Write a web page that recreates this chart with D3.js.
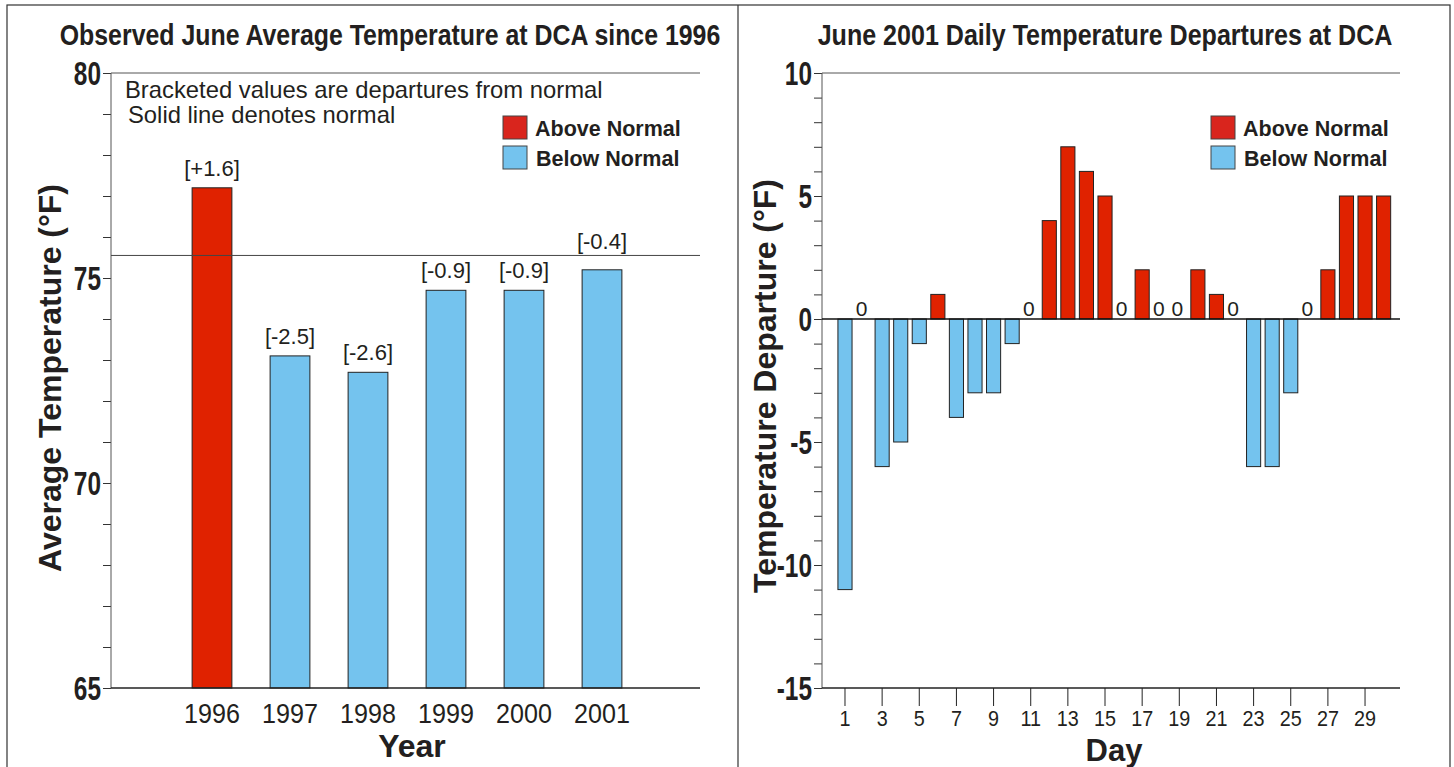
<!DOCTYPE html>
<html>
<head>
<meta charset="utf-8">
<script src="https://cdn.jsdelivr.net/npm/d3@7"></script>
<style>
	body { margin: 0; background: #fff; }
	text { font-family: "Liberation Sans", Arial, sans-serif; fill: #231f20; }
</style>
</head>
<body>
<svg id="chart"></svg>
<script>

var w = 1454;
var h = 767;

// left chart: june averages
var years = ['1996', '1997', '1998', '1999', '2000', '2001'];
var avg_temps = [77.2, 73.1, 72.7, 74.7, 74.7, 75.2];
var departures = ['[+1.6]', '[-2.5]', '[-2.6]', '[-0.9]', '[-0.9]', '[-0.4]'];
var normal_temp = 75.55;
var left_ticks = [65, 70, 75, 80];

// right chart: daily departures june 2001
var days = d3.range(1, 31);
var daily_dep = [-11, 0, -6, -5, -1, 1, -4, -3, -3, -1, 0, 4, 7, 6, 5, 0, 2, 0, 0, 2, 1, 0, -6, -6, -3, 0, 2, 5, 5, 5];
var right_ticks = [-15, -10, -5, 0, 5, 10];
var day_labels = [1, 3, 5, 7, 9, 11, 13, 15, 17, 19, 21, 23, 25, 27, 29];

var red = '#e02200';
var red_leg = '#d9251d';
var blue = '#74c3ee';

var svg = d3.select('#chart')
	.attr('width', w)
	.attr('height', h);

// panel frames
svg.append('rect')
	.attr('x', 7).attr('y', 5)
	.attr('width', 1443).attr('height', 800)
	.attr('fill', 'none')
	.attr('stroke', '#333')
	.attr('stroke-width', 1.2);
svg.append('line')
	.attr('x1', 738).attr('x2', 738)
	.attr('y1', 5).attr('y2', h)
	.attr('stroke', '#333')
	.attr('stroke-width', 1.2);

// squeezed text (the original uses a condensed face)
function cond_text(g, txt, x, y, size, sx, anchor) {
	return g.append('text')
		.attr('transform', 'translate(' + x + ',' + y + ') scale(' + sx + ',1)')
		.attr('text-anchor', anchor || 'start')
		.attr('font-size', size)
		.attr('font-weight', 'bold')
		.text(txt);
}

function legend(g, x) {
	var items = [['Above Normal', red_leg], ['Below Normal', blue]];
	items.forEach(function(d, i) {
		g.append('rect')
			.attr('x', x).attr('y', 116 + i * 30)
			.attr('width', 24).attr('height', 23)
			.attr('fill', d[1])
			.attr('stroke', '#444')
			.attr('stroke-width', 1);
		g.append('text')
			.attr('x', x + 32 + i * 1).attr('y', 136 + i * 30)
			.attr('font-size', 21.5)
			.attr('font-weight', 'bold')
			.text(d[0]);
	});
}

function style_axis(ax) {
	ax.select('.domain').remove();
	ax.selectAll('line').attr('stroke', '#333');
	ax.selectAll('text')
		.attr('font-size', 33)
		.attr('font-weight', 'bold')
		.attr('fill', '#231f20')
		.attr('transform', 'scale(0.74,1)')
		.attr('x', -10 / 0.74)
		.attr('dy', '0.36em');
}

/* ---------- left chart ---------- */

var L = svg.append('g');
var lx0 = 111, lx1 = 700, ly0 = 73, ly1 = 688;

var y1 = d3.scaleLinear().domain([65, 80]).range([ly1, ly0]);
var x1 = d3.scaleBand().domain(years).range([173, 641]).paddingInner(0.49).paddingOuter(0.245);

cond_text(L, 'Observed June Average Temperature at DCA since 1996', 390, 45, 30, 0.83, 'middle');

var lax = L.append('g')
	.attr('transform', 'translate(' + lx0 + ',0)')
	.call(d3.axisLeft(y1).tickValues(d3.range(65, 81)).tickSize(8)
		.tickFormat(function(d) { return left_ticks.includes(d) ? d : ''; }));
style_axis(lax);

L.append('line')
	.attr('x1', lx0).attr('x2', lx0).attr('y1', ly0).attr('y2', ly1)
	.attr('stroke', '#555');
L.append('line')
	.attr('x1', lx0).attr('x2', lx1).attr('y1', ly0).attr('y2', ly0)
	.attr('stroke', '#555');

L.selectAll('.avg_bar')
	.data(years)
	.enter()
	.append('rect')
	.attr('class', 'avg_bar')
	.attr('x', function(d) { return x1(d); })
	.attr('width', x1.bandwidth())
	.attr('y', function(d, i) { return y1(avg_temps[i]); })
	.attr('height', function(d, i) { return ly1 - y1(avg_temps[i]); })
	.attr('fill', function(d, i) { return avg_temps[i] > normal_temp ? red : blue; })
	.attr('stroke', '#222')
	.attr('stroke-width', 1);

L.append('line')
	.attr('x1', lx0).attr('x2', lx1)
	.attr('y1', y1(normal_temp)).attr('y2', y1(normal_temp))
	.attr('stroke', '#444')
	.attr('stroke-width', 1);

L.selectAll('.dep_lbl')
	.data(years)
	.enter()
	.append('text')
	.attr('class', 'dep_lbl')
	.attr('x', function(d) { return x1(d) + x1.bandwidth() / 2; })
	.attr('y', function(d, i) {
		var yy = y1(avg_temps[i]) - 12;
		// keep label clear of the normal line
		if (yy > y1(normal_temp) - 6 && yy < y1(normal_temp) + 20) yy = y1(normal_temp) - 6;
		return yy;
	})
	.attr('text-anchor', 'middle')
	.attr('font-size', 22)
	.text(function(d, i) { return departures[i]; });

L.append('line')
	.attr('x1', lx0).attr('x2', lx1).attr('y1', ly1).attr('y2', ly1)
	.attr('stroke', '#222')
	.attr('stroke-width', 1.5);

L.selectAll('.yr_lbl')
	.data(years)
	.enter()
	.append('text')
	.attr('class', 'yr_lbl')
	.attr('transform', function(d) {
		return 'translate(' + (x1(d) + x1.bandwidth() / 2) + ',723) scale(0.93,1)';
	})
	.attr('text-anchor', 'middle')
	.attr('font-size', 27)
	.text(function(d) { return d; });

L.append('text')
	.attr('x', 412).attr('y', 757)
	.attr('text-anchor', 'middle')
	.attr('font-size', 32)
	.attr('font-weight', 'bold')
	.text('Year');

L.append('text')
	.attr('transform', 'translate(61,378) rotate(-90)')
	.attr('text-anchor', 'middle')
	.attr('font-size', 32)
	.attr('font-weight', 'bold')
	.text('Average Temperature (°F)');

L.append('text')
	.attr('x', 125).attr('y', 98)
	.attr('font-size', 23.8)
	.text('Bracketed values are departures from normal');
L.append('text')
	.attr('x', 128).attr('y', 123)
	.attr('font-size', 23.8)
	.text('Solid line denotes normal');

legend(L, 503);

/* ---------- right chart ---------- */

var R = svg.append('g');
var rx0 = 822, rx1 = 1400, ry0 = 73, ry1 = 688;

var y2 = d3.scaleLinear().domain([-15, 10]).range([ry1, ry0]);
var x2 = d3.scaleBand().domain(days).range([835.7, 1392.9]).paddingInner(0.24).paddingOuter(0.12);

cond_text(R, 'June 2001 Daily Temperature Departures at DCA', 1105, 45, 30, 0.836, 'middle');

var rax = R.append('g')
	.attr('transform', 'translate(' + rx0 + ',0)')
	.call(d3.axisLeft(y2).tickValues(d3.range(-15, 11)).tickSize(8)
		.tickFormat(function(d) { return right_ticks.includes(d) ? d : ''; }));
style_axis(rax);

R.append('line')
	.attr('x1', rx0).attr('x2', rx0).attr('y1', ry0).attr('y2', ry1)
	.attr('stroke', '#555');
R.append('line')
	.attr('x1', rx0).attr('x2', rx1).attr('y1', ry0).attr('y2', ry0)
	.attr('stroke', '#555');

R.selectAll('.day_bar')
	.data(days.filter(function(d) { return daily_dep[d - 1] != 0; }))
	.enter()
	.append('rect')
	.attr('class', 'day_bar')
	.attr('x', function(d) { return x2(d); })
	.attr('width', x2.bandwidth())
	.attr('y', function(d) { return y2(Math.max(0, daily_dep[d - 1])); })
	.attr('height', function(d) { return Math.abs(y2(daily_dep[d - 1]) - y2(0)); })
	.attr('fill', function(d) { return daily_dep[d - 1] > 0 ? red : blue; })
	.attr('stroke', '#222')
	.attr('stroke-width', 1);

R.selectAll('.zero_lbl')
	.data(days.filter(function(d) { return daily_dep[d - 1] == 0; }))
	.enter()
	.append('text')
	.attr('class', 'zero_lbl')
	.attr('x', function(d) { return x2(d) + x2.bandwidth() / 2 - 2; })
	.attr('y', y2(0) - 3)
	.attr('text-anchor', 'middle')
	.attr('font-size', 21)
	.text('0');

R.append('line')
	.attr('x1', rx0).attr('x2', rx1).attr('y1', y2(0)).attr('y2', y2(0))
	.attr('stroke', '#111')
	.attr('stroke-width', 1.3);

var bx = R.append('g')
	.attr('transform', 'translate(0,' + ry1 + ')')
	.call(d3.axisBottom(x2).tickValues(day_labels).tickSize(18).tickPadding(4));
bx.select('.domain').remove();
bx.selectAll('line').attr('stroke', '#222');
bx.selectAll('text')
	.attr('font-size', 22)
	.attr('fill', '#231f20')
	.attr('transform', 'scale(0.9,1)');
bx.selectAll('.tick').each(function(d) {
	var cx = x2(d) + x2.bandwidth() / 2;
	d3.select(this).attr('transform', 'translate(' + cx + ',0)');
});

R.append('line')
	.attr('x1', rx0).attr('x2', rx1).attr('y1', ry1).attr('y2', ry1)
	.attr('stroke', '#222')
	.attr('stroke-width', 1.5);

R.append('text')
	.attr('x', 1114).attr('y', 761)
	.attr('text-anchor', 'middle')
	.attr('font-size', 31)
	.attr('font-weight', 'bold')
	.text('Day');

R.append('text')
	.attr('transform', 'translate(776,386) rotate(-90)')
	.attr('text-anchor', 'middle')
	.attr('font-size', 32)
	.attr('font-weight', 'bold')
	.text('Temperature Departure (°F)');

legend(R, 1211);

</script>
</body>
</html>
